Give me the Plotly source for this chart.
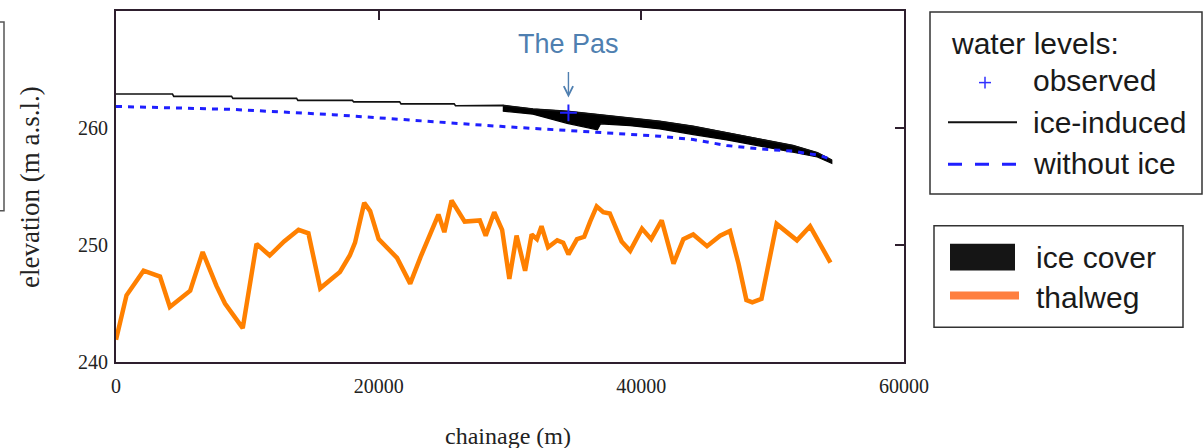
import plotly.graph_objects as go

# ---------------- data ----------------
# thalweg (bed) profile
th_x = [0, 800, 2100, 3350, 4100, 5650, 6600, 7650, 8300, 9650,
        10700, 11700, 12800, 13900, 14650, 15550, 16400, 17050, 17800, 18200,
        18900, 19350, 20000, 21400, 22400, 23200, 24550, 25000, 25550, 26550,
        27700, 28150, 28800, 29400, 29950, 30500, 31150, 31650, 32050, 32400,
        32900, 33600, 34050, 34450, 35100, 35650, 36100, 36600, 37100, 37600,
        38500, 39150, 40050, 40750, 41550, 42450, 43200, 43950, 45000, 46000,
        46750, 47400, 48000, 48450, 49150, 50300, 51850, 52850, 54400]
th_y = [241.9, 245.7, 247.8, 247.3, 244.7, 246.1, 249.4, 246.5, 245.0, 242.9,
        250.1, 249.1, 250.3, 251.3, 251.0, 246.3, 247.1, 247.7, 249.1, 250.2,
        253.6, 252.9, 250.5, 248.9, 246.7, 249.0, 252.6, 251.1, 253.8, 252.0,
        252.1, 250.8, 252.8, 251.3, 247.1, 250.8, 247.8, 250.9, 250.5, 251.6,
        249.8, 250.4, 250.2, 249.2, 250.5, 250.7, 252.0, 253.3, 252.8, 252.7,
        250.3, 249.5, 251.4, 250.5, 252.1, 248.4, 250.5, 250.9, 249.9, 250.8,
        251.2, 248.4, 245.3, 245.1, 245.4, 251.8, 250.4, 251.6, 248.5]

# ice-induced water level, open-water reach (stepped)
open_x = [0, 4300, 4400, 8800, 8900, 13750, 13850, 18000, 18100, 21600,
          21700, 25750, 25850]
open_y = [262.9, 262.9, 262.7, 262.7, 262.53, 262.53, 262.36, 262.36, 262.23, 262.23,
          262.06, 262.06, 261.9]

# ice cover: top (= ice-induced water level) and bottom
ice_x = [29450, 31750, 34350, 36650, 36900, 39150, 41400, 43950, 46500,
         49050, 51550, 53400, 54500]
ice_top = [261.93, 261.62, 261.42, 261.15, 261.12, 260.82, 260.57, 260.14, 259.58,
           259.02, 258.5, 257.88, 257.25]
ice_bottom = [261.45, 261.18, 260.4, 259.84, 260.36, 260.2, 259.92, 259.44, 258.98,
              258.48, 257.93, 257.52, 256.98]

# water level without ice
noice_x = [0, 8900, 16500, 24150, 29250, 35350, 41400, 43950, 46500,
           49050, 51550, 53600, 54150, 54500]
noice_y = [261.84, 261.59, 261.14, 260.51, 260.14, 259.72, 259.3, 259.01, 258.5,
           258.21, 258.02, 257.65, 257.45, 257.3]

# observed water level (The Pas)
obs_x = [34450]
obs_y = [261.3]

x_ticks = [0, 20000, 40000, 60000]
y_ticks = [240, 250, 260]

# ---------------- layout helpers ----------------
W, H = 1203, 448
L, R, T, B = 116, 904, 9, 362
Y0, Y1 = 240, 270


def pxx(p):
    return (p - L) / (R - L)


def pyy(p):
    return (B - p) / (B - T)


FRAME = "#2e1f2e"
SERIF = "Liberation Serif"
SANS = "Liberation Sans"
PAS = "#4f7fb0"

fig = go.Figure()

# thalweg
fig.add_trace(go.Scatter(x=th_x, y=th_y, mode="lines",
                         line=dict(color="#ff8000", width=4.5),
                         showlegend=False, hoverinfo="skip"))

# ice cover polygon
fig.add_trace(go.Scatter(x=ice_x + ice_x[::-1], y=ice_top + ice_bottom[::-1],
                         mode="lines", fill="toself", fillcolor="#000000",
                         line=dict(color="#000000", width=1.2),
                         showlegend=False, hoverinfo="skip"))

# ice-induced water level
fig.add_trace(go.Scatter(x=open_x + ice_x, y=open_y + ice_top, mode="lines",
                         line=dict(color="#111111", width=1.6),
                         showlegend=False, hoverinfo="skip"))

# without ice
fig.add_trace(go.Scatter(x=noice_x, y=noice_y, mode="lines",
                         line=dict(color="#1f1fff", width=3, dash="6px,6px"),
                         showlegend=False, hoverinfo="skip"))

# observed
fig.add_trace(go.Scatter(x=obs_x, y=obs_y, mode="markers",
                         marker=dict(symbol="cross-thin", size=12,
                                     line=dict(color="#2020ff", width=2)),
                         showlegend=False, hoverinfo="skip"))

# dummy trace for top/right tick axes
fig.add_trace(go.Scatter(x=[None], y=[None], xaxis="x2", yaxis="y2",
                         showlegend=False, hoverinfo="skip"))

shapes = []
# left cut-off box
shapes.append(dict(type="rect", xref="paper", yref="paper",
                   x0=pxx(-10), x1=pxx(4), y0=pyy(210), y1=pyy(20),
                   line=dict(color="#555555", width=1.5)))
# legend box 1
shapes.append(dict(type="rect", xref="paper", yref="paper",
                   x0=pxx(930), x1=pxx(1202), y0=pyy(193), y1=pyy(10),
                   line=dict(color="#333333", width=1.5)))
# legend box 2
shapes.append(dict(type="rect", xref="paper", yref="paper",
                   x0=pxx(934), x1=pxx(1183), y0=pyy(327), y1=pyy(225),
                   line=dict(color="#333333", width=1.5)))
# legend symbols
shapes.append(dict(type="line", xref="paper", yref="paper",
                   x0=pxx(979), x1=pxx(991), y0=pyy(81), y1=pyy(81),
                   line=dict(color="#3030ff", width=1.5)))
shapes.append(dict(type="line", xref="paper", yref="paper",
                   x0=pxx(985), x1=pxx(985), y0=pyy(75), y1=pyy(87),
                   line=dict(color="#3030ff", width=1.5)))
shapes.append(dict(type="line", xref="paper", yref="paper",
                   x0=pxx(948), x1=pxx(1017), y0=pyy(121), y1=pyy(121),
                   line=dict(color="#111111", width=2)))
shapes.append(dict(type="line", xref="paper", yref="paper",
                   x0=pxx(948), x1=pxx(1017), y0=pyy(163), y1=pyy(163),
                   line=dict(color="#1f1fff", width=3, dash="14px,13px")))
shapes.append(dict(type="rect", xref="paper", yref="paper",
                   x0=pxx(950), x1=pxx(1015), y0=pyy(270), y1=pyy(243),
                   fillcolor="#151515", line=dict(width=0)))
shapes.append(dict(type="line", xref="paper", yref="paper",
                   x0=pxx(950), x1=pxx(1019), y0=pyy(295), y1=pyy(295),
                   line=dict(color="#ff7f3f", width=8)))

ann = []


def txt(text, x, y, size, color="#1a1a1a", font=SANS, xanchor="left", **kw):
    ann.append(dict(text=text, xref="paper", yref="paper", x=pxx(x), y=pyy(y),
                    xanchor=xanchor, yanchor="middle", showarrow=False,
                    font=dict(family=font, size=size, color=color), **kw))


txt("water levels:", 949, 42, 30)
txt("observed", 1031, 79, 30)
txt("ice-induced", 1031, 121, 30)
txt("without ice", 1031, 162, 30)
txt("ice cover", 1034, 257, 30)
txt("thalweg", 1034, 297, 30)

# axis titles
txt("elevation (m a.s.l.)", 30, 186, 27, color="#222222", font=SERIF,
    xanchor="center", textangle=-90)
txt("chainage (m)", 508, 436, 24, color="#222222", font=SERIF, xanchor="center")

# The Pas label and arrow
ann.append(dict(text="The Pas", xref="x", yref="paper", x=obs_x[0], y=pyy(42),
                xanchor="center", yanchor="middle", showarrow=False,
                font=dict(family=SANS, size=27, color=PAS)))
ann.append(dict(text="", xref="x", yref="paper", x=obs_x[0], y=pyy(96),
                showarrow=True, ax=0, ay=-27, arrowhead=5, arrowsize=1.3,
                arrowwidth=1.4, arrowcolor=PAS, standoff=0, startstandoff=0))

axis_common = dict(showgrid=False, zeroline=False)

fig.update_layout(
    width=W, height=H, autosize=False,
    margin=dict(l=L, r=W - R, t=T, b=H - B, pad=0),
    paper_bgcolor="white", plot_bgcolor="white",
    showlegend=False,
    xaxis=dict(range=[0, 60000], tickvals=x_ticks, ticktext=[str(v) for v in x_ticks],
               ticks="", showline=True, linecolor=FRAME, linewidth=2, mirror=True,
               tickfont=dict(family=SERIF, size=20, color="#222222"),
               ticklabelstandoff=5, **axis_common),
    yaxis=dict(range=[Y0, Y1], tickvals=y_ticks, ticktext=[str(v) for v in y_ticks],
               ticks="", showline=True, linecolor=FRAME, linewidth=2, mirror=True,
               tickfont=dict(family=SERIF, size=20, color="#222222"),
               ticklabelstandoff=2, **axis_common),
    xaxis2=dict(range=[0, 60000], overlaying="x", side="top", anchor="y",
                tickvals=[20000, 40000], ticks="inside", ticklen=9, tickwidth=1.5,
                tickcolor=FRAME, showticklabels=False, showline=False, **axis_common),
    yaxis2=dict(range=[Y0, Y1], overlaying="y", side="right", anchor="x",
                tickvals=[250, 260], ticks="inside", ticklen=9, tickwidth=1.5,
                tickcolor=FRAME, showticklabels=False, showline=False, **axis_common),
    shapes=shapes,
    annotations=ann,
)

fig.write_html("out.html", config={"displayModeBar": False})
